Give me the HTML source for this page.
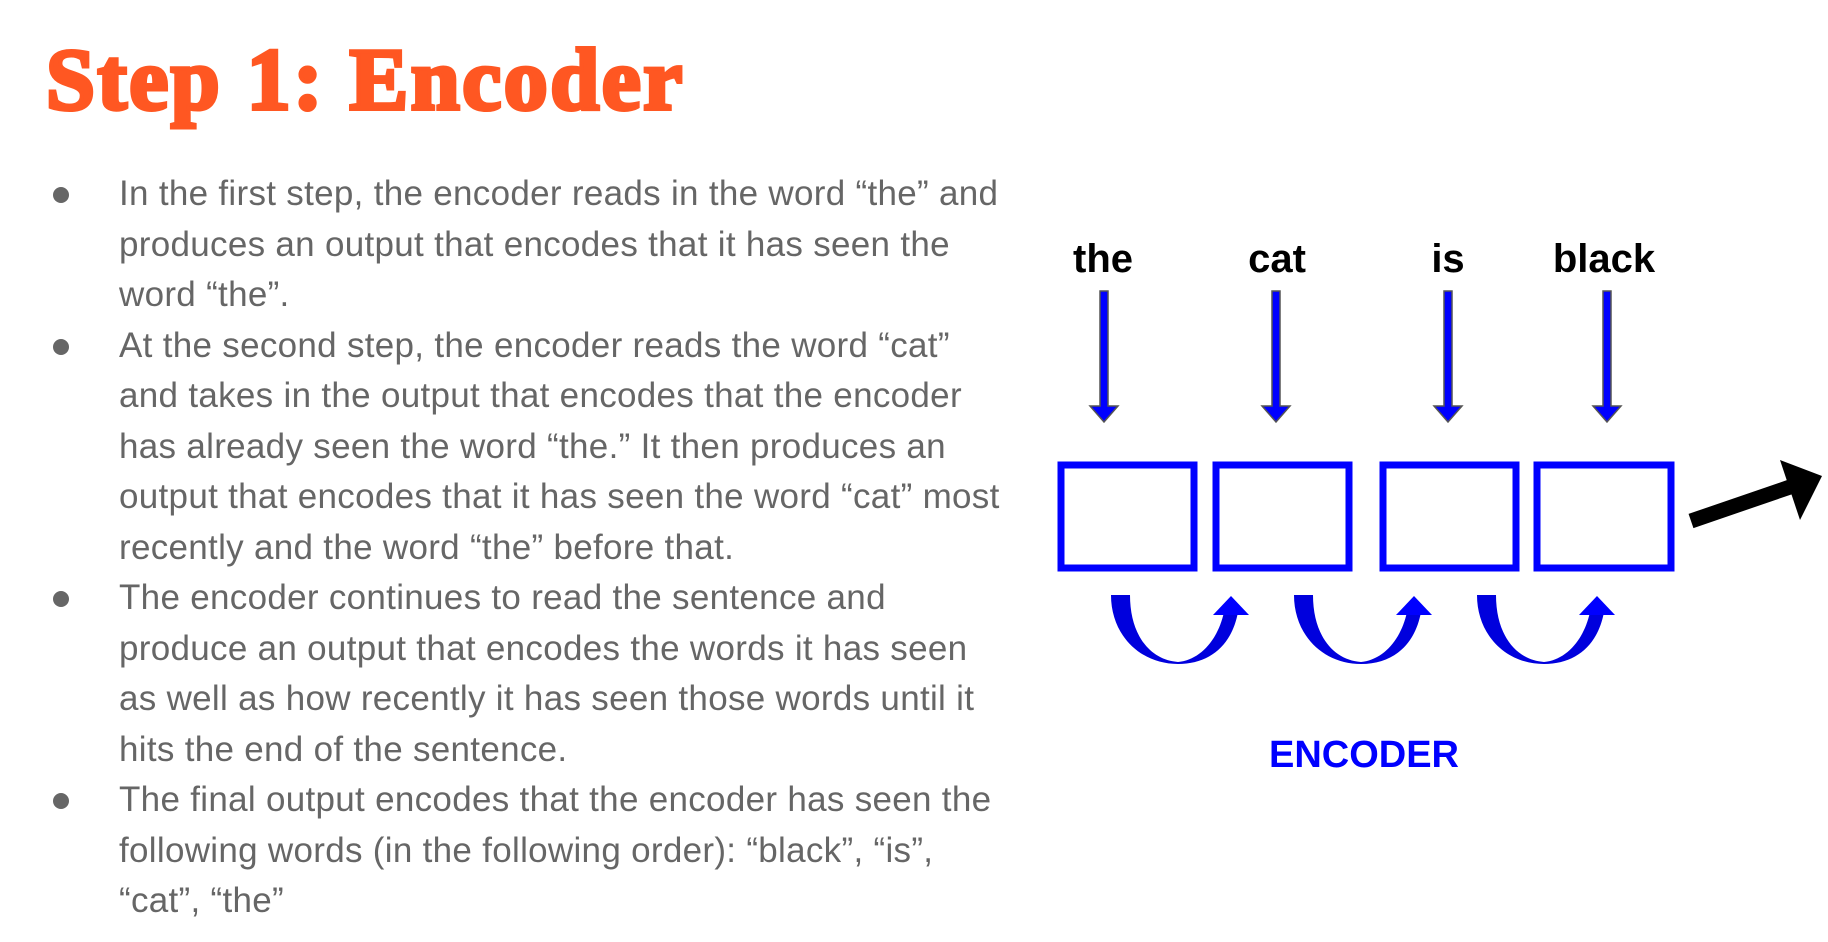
<!DOCTYPE html>
<html><head><meta charset="utf-8"><style>
body{margin:0;width:1828px;height:942px;background:#fff;position:relative;overflow:hidden;font-family:"Liberation Sans",sans-serif}
h1{position:absolute;left:46px;top:30px;margin:0;font-family:"Liberation Serif",serif;font-weight:900;font-size:88px;color:#ff5722;letter-spacing:2.5px;-webkit-text-stroke:4px #ff5722}
.t{position:absolute;left:119px;width:960px;font-size:35px;letter-spacing:0.3px;line-height:50.5px;color:#666}
.b{position:absolute;left:53px;width:16px;height:16px;border-radius:50%;background:#666}
</style></head><body>
<h1>Step 1: Encoder</h1>
<div class="b" style="top:187px"></div>
<div class="b" style="top:339px"></div>
<div class="b" style="top:591px"></div>
<div class="b" style="top:793px"></div>
<div class="t" style="top:169px">In the first step, the encoder reads in the word “the” and<br>produces an output that encodes that it has seen the<br>word “the”.<br>At the second step, the encoder reads the word “cat”<br>and takes in the output that encodes that the encoder<br>has already seen the word “the.” It then produces an<br>output that encodes that it has seen the word “cat” most<br>recently and the word “the” before that.<br>The encoder continues to read the sentence and<br>produce an output that encodes the words it has seen<br>as well as how recently it has seen those words until it<br>hits the end of the sentence.<br>The final output encodes that the encoder has seen the<br>following words (in the following order): “black”, “is”,<br>“cat”, “the”</div>
<svg width="1828" height="942" style="position:absolute;left:0;top:0">
<g font-family="Liberation Sans,sans-serif" font-weight="bold" font-size="40" text-anchor="middle">
<text x="1103" y="272">the</text><text x="1277" y="272">cat</text><text x="1448" y="272">is</text><text x="1604" y="272">black</text>
</g>
<g fill="#0000ff" stroke="#555" stroke-width="1.5">
<path d="M1100 291h8v115h10l-14 16l-14-16h10z"/>
<path d="M1272 291h8v115h10l-14 16l-14-16h10z"/>
<path d="M1444 291h8v115h10l-14 16l-14-16h10z"/>
<path d="M1603 291h8v115h10l-14 16l-14-16h10z"/>
</g>
<g fill="none" stroke="#0000ff" stroke-width="7">
<rect x="1061" y="465" width="133" height="103"/>
<rect x="1216" y="465" width="133" height="103"/>
<rect x="1383" y="465" width="133" height="103"/>
<rect x="1537" y="465" width="134" height="103"/>
</g>
<g id="c">
<path d="M1111 595 H1130 C1130 635,1150 660,1178 662 C1200 660,1218 640,1224 612 H1238 C1232 645,1210 664,1178 664 C1140 664,1111 635,1111 595 Z" fill="#0000dd"/>
<polygon points="1231,596 1213,615 1249,615" fill="#0000ff"/>
</g>
<use href="#c" x="183"/>
<use href="#c" x="366"/>
<text x="1364" y="767" font-family="Liberation Sans,sans-serif" font-weight="bold" font-size="38" fill="#0000ff" text-anchor="middle">ENCODER</text>
<line x1="1691" y1="521" x2="1790" y2="487" stroke="#000" stroke-width="15"/>
<polygon points="1780,460 1822,476 1800,520" fill="#000"/>
</svg>
</body></html>
